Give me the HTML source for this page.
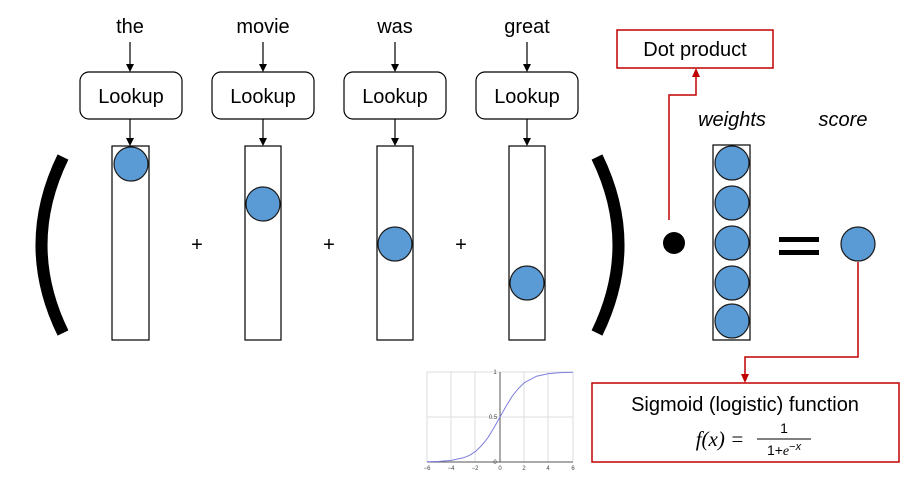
<!DOCTYPE html>
<html><head><meta charset="utf-8"><style>
html,body{margin:0;padding:0;background:#fff;}
svg text{font-family:"Liberation Sans",sans-serif;}
</style></head><body>
<svg width="923" height="481" viewBox="0 0 923 481" xmlns="http://www.w3.org/2000/svg">
<g font-size="20" text-anchor="middle" fill="#000">
<text x="130" y="33">the</text>
<text x="263" y="33">movie</text>
<text x="395" y="33">was</text>
<text x="527" y="33">great</text>
</g>
<g stroke="#000" stroke-width="1.2" fill="#fff">
<rect x="80" y="72" width="102" height="47" rx="9"/>
<rect x="212" y="72" width="102" height="47" rx="9"/>
<rect x="344" y="72" width="102" height="47" rx="9"/>
<rect x="476" y="72" width="102" height="47" rx="9"/>
<rect x="112" y="146" width="37" height="194"/>
<rect x="245" y="146" width="36" height="194"/>
<rect x="377" y="146" width="36" height="194"/>
<rect x="509" y="146" width="36" height="194"/>
<rect x="713" y="145" width="37" height="195"/>
</g>
<g font-size="20" text-anchor="middle">
<text x="131" y="103">Lookup</text>
<text x="263" y="103">Lookup</text>
<text x="395" y="103">Lookup</text>
<text x="527" y="103">Lookup</text>
</g>
<g stroke="#000" stroke-width="1.2">
<line x1="130" y1="42" x2="130" y2="65"/><line x1="263" y1="42" x2="263" y2="65"/><line x1="395" y1="42" x2="395" y2="65"/><line x1="527" y1="42" x2="527" y2="65"/>
<line x1="130" y1="119" x2="130" y2="139"/><line x1="263" y1="119" x2="263" y2="139"/><line x1="395" y1="119" x2="395" y2="139"/><line x1="527" y1="119" x2="527" y2="139"/>
</g>
<g fill="#000">
<path d="M126,64 L134,64 L130,72 Z"/><path d="M259,64 L267,64 L263,72 Z"/><path d="M391,64 L399,64 L395,72 Z"/><path d="M523,64 L531,64 L527,72 Z"/>
<path d="M126,138 L134,138 L130,146 Z"/><path d="M259,138 L267,138 L263,146 Z"/><path d="M391,138 L399,138 L395,146 Z"/><path d="M523,138 L531,138 L527,146 Z"/>
</g>
<g fill="#5b9bd5" stroke="#1a1a1a" stroke-width="1.2">
<circle cx="131" cy="164" r="17"/><circle cx="263" cy="204" r="17"/><circle cx="395" cy="244" r="17"/><circle cx="527" cy="283" r="17"/>
<circle cx="732" cy="163" r="17"/><circle cx="732" cy="203" r="17"/><circle cx="732" cy="243" r="17"/><circle cx="732" cy="283" r="17"/><circle cx="732" cy="321" r="17"/>
<circle cx="858" cy="244" r="17"/>
</g>
<g font-size="20" text-anchor="middle"><text x="197" y="251">+</text><text x="329" y="251">+</text><text x="461" y="251">+</text></g>
<path d="M63,157 Q20,245 63,333" stroke="#000" stroke-width="12" fill="none"/>
<path d="M597,157 Q640,245 597,333" stroke="#000" stroke-width="12" fill="none"/>
<circle cx="674" cy="243" r="11" fill="#000"/>
<rect x="779" y="237" width="40" height="5" fill="#000"/><rect x="779" y="250" width="40" height="5" fill="#000"/>
<g font-size="20" font-style="italic" text-anchor="middle"><text x="732" y="126">weights</text><text x="843" y="126">score</text></g>
<g stroke="#c00000" stroke-width="1.5" fill="none">
<rect x="617" y="30" width="156" height="38" fill="#fff"/>
<polyline points="669,220 669,95 696,95 696,76"/>
<polyline points="858,262 858,357 745,357 745,375"/>
<rect x="592" y="383" width="307" height="79" fill="#fff"/>
</g>
<path d="M692,77 L700,77 L696,68 Z" fill="#c00000"/>
<path d="M741,374 L749,374 L745,383 Z" fill="#c00000"/>
<text x="695" y="56" font-size="20" text-anchor="middle">Dot product</text>
<text x="745" y="411" font-size="20" text-anchor="middle">Sigmoid (logistic) function</text>
<text x="720" y="446" font-size="21" font-style="italic" text-anchor="middle" style="font-family:'Liberation Serif',serif">f(x) =</text>
<line x1="757" y1="439" x2="811" y2="439" stroke="#000" stroke-width="1"/>
<text x="784" y="433" font-size="14" text-anchor="middle">1</text>
<text x="784" y="455" font-size="14" text-anchor="middle">1+<tspan font-style="italic" style="font-family:'Liberation Serif',serif">e</tspan><tspan font-size="11" dy="-5">−<tspan font-style="italic">x</tspan></tspan></text>
<g stroke="#ddd" stroke-width="1">
<line x1="427" y1="372" x2="427" y2="462"/><line x1="451" y1="372" x2="451" y2="462"/><line x1="475" y1="372" x2="475" y2="462"/><line x1="524" y1="372" x2="524" y2="462"/><line x1="548" y1="372" x2="548" y2="462"/><line x1="573" y1="372" x2="573" y2="462"/>
<line x1="427" y1="372" x2="573" y2="372"/><line x1="427" y1="417" x2="573" y2="417"/>
</g>
<line x1="500" y1="372" x2="500" y2="462" stroke="#555"/>
<line x1="427" y1="462" x2="573" y2="462" stroke="#555"/>
<polyline points="427,461.8 439.2,461.4 451.3,460.4 463.5,457.8 469.6,455.3 475.7,451.3 481.7,445.4 487.8,437.8 493.9,427.9 500,417 506.1,406.1 512.2,396.2 518.3,388.6 524.3,382.7 536.5,376.2 548.7,373.6 560.8,372.6 573,372.2" stroke="#7f7fe0" fill="none" stroke-width="1"/>
<g font-size="6" fill="#444" text-anchor="middle">
<text x="427" y="470">−6</text><text x="451" y="470">−4</text><text x="475" y="470">−2</text><text x="500" y="470">0</text><text x="524" y="470">2</text><text x="548" y="470">4</text><text x="573" y="470">6</text>
<text x="495" y="374">1</text><text x="493" y="419">0.5</text><text x="495" y="464">0</text>
</g>
</svg>
</body></html>
